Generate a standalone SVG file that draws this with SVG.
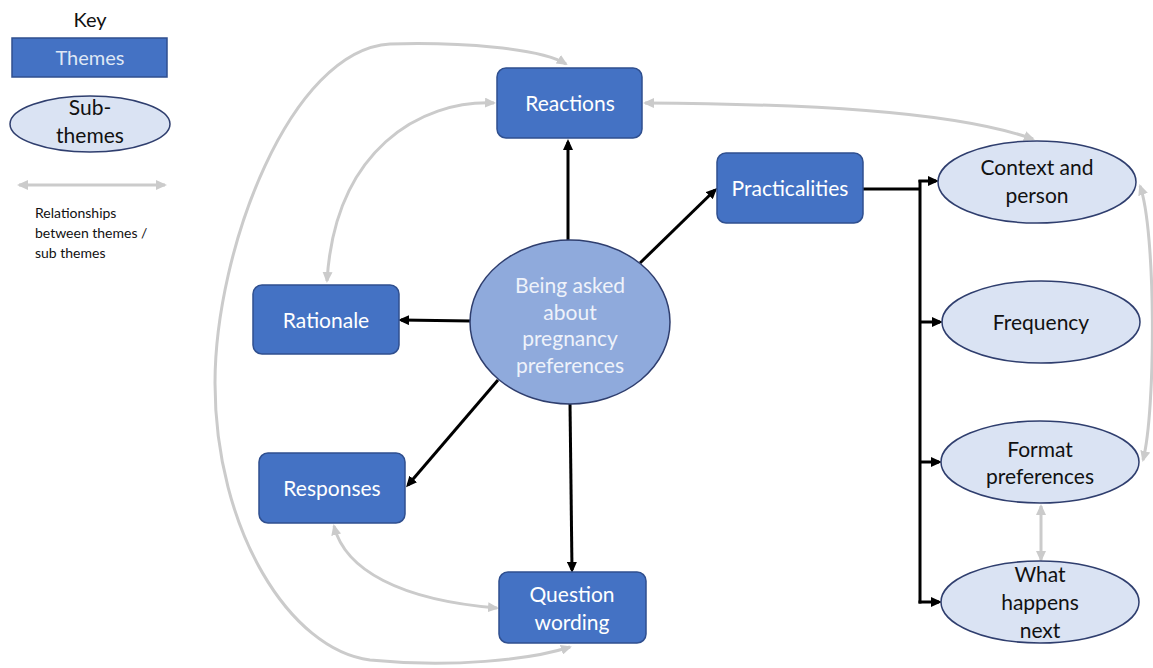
<svg xmlns="http://www.w3.org/2000/svg" width="1153" height="668" viewBox="0 0 1153 668">
<style>
text{font-family:Lato,"Open Sans","Liberation Sans",sans-serif;text-anchor:middle}
.theme{fill:#4472c4;stroke:#2f4f8f;stroke-width:1.5}
.sub{fill:#dae3f3;stroke:#2f3e6e;stroke-width:1.5}
.center{fill:#8faadc;stroke:#2f3e6e;stroke-width:1.5}
.tw{fill:#ffffff;font-size:21px}
.tc{fill:#eef2fa;font-size:21px}
.tb{fill:#111111;font-size:21px}
.blk{fill:none;stroke:#000;stroke-width:3;marker-end:url(#ab)}
.blkn{fill:none;stroke:#000;stroke-width:3}
.gry{fill:none;stroke:#cbcbcb;stroke-width:3;marker-start:url(#ag);marker-end:url(#ag)}
</style>
<defs>
<marker id="ab" markerUnits="userSpaceOnUse" markerWidth="11" markerHeight="10" refX="8" refY="5" orient="auto"><path d="M0,0 L11,5 L0,10 z" fill="#000"/></marker>
<marker id="ag" markerUnits="userSpaceOnUse" markerWidth="11" markerHeight="10" refX="9" refY="5" orient="auto-start-reverse"><path d="M0,0 L11,5 L0,10 z" fill="#cbcbcb"/></marker>
</defs>
<rect width="1153" height="668" fill="#ffffff"/>
<g id="key">
<text x="90" y="27" style="font-size:20px;fill:#111">Key</text>
<rect x="12" y="38" width="155" height="39" class="theme"/>
<text x="90" y="65" style="fill:#dfe7f5;font-size:20px">Themes</text>
<ellipse cx="90" cy="124" rx="80" ry="28" class="sub"/>
<text x="90" y="115" class="tb">Sub-</text>
<text x="90" y="143" class="tb">themes</text>
<path d="M19 185 L165 185" class="gry"/>
<text x="35" y="218" style="font-size:14px;fill:#111;text-anchor:start">Relationships</text>
<text x="35" y="238" style="font-size:14px;fill:#111;text-anchor:start">between themes /</text>
<text x="35" y="258" style="font-size:14px;fill:#111;text-anchor:start">sub themes</text>
</g>
<g id="connectors">
<path d="M568 240 L568 142" class="blk"/>
<path d="M471 321 L401 320" class="blk"/>
<path d="M498 380 L408 485" class="blk"/>
<path d="M570 403 L572 570" class="blk"/>
<path d="M640 263 L715 190" class="blk"/>
<path d="M863 189 L920 189" class="blkn"/>
<path d="M920 180 L920 603.5" class="blkn"/>
<path d="M918.5 181 L936 181" class="blk"/>
<path d="M920 322 L940 322" class="blk"/>
<path d="M920 462 L939 462" class="blk"/>
<path d="M918.5 602 L939 602" class="blk"/>
<path d="M566 64 C540 48 460 42 390 44 C290 50 215 250 215 383 C215 530 290 650 370 660 C450 668 530 660 570 647" class="gry"/>
<path d="M494 103 C420 100 335 150 327 281" class="gry"/>
<path d="M334 526 C345 570 400 600 497 608" class="gry"/>
<path d="M645 103 C800 104 950 110 1033 139" class="gry"/>
<path d="M1140 186 C1156 230 1156 410 1143 460" class="gry"/>
<path d="M1041 506 L1041 560" class="gry"/>
</g>
<g id="center">
<ellipse cx="570" cy="322" rx="100" ry="82" class="center"/>
<text x="570" y="293" class="tc">Being asked</text>
<text x="570" y="320" class="tc">about</text>
<text x="570" y="346" class="tc">pregnancy</text>
<text x="570" y="373" class="tc">preferences</text>
</g>
<g id="reactions">
<rect x="497" y="68" width="145" height="70" rx="9" class="theme"/>
<text x="570" y="111" class="tw">Reactions</text>
</g>
<g id="rationale">
<rect x="253" y="285" width="146" height="69" rx="9" class="theme"/>
<text x="326" y="328" class="tw">Rationale</text>
</g>
<g id="responses">
<rect x="259" y="453" width="146" height="70" rx="9" class="theme"/>
<text x="332" y="496" class="tw">Responses</text>
</g>
<g id="question-wording">
<rect x="499" y="572" width="147" height="71" rx="9" class="theme"/>
<text x="572" y="602" class="tw">Question</text>
<text x="572" y="630" class="tw">wording</text>
</g>
<g id="practicalities">
<rect x="717" y="153" width="146" height="70" rx="9" class="theme"/>
<text x="790" y="196" class="tw">Practicalities</text>
</g>
<g id="context-and-person">
<ellipse cx="1037" cy="182" rx="99" ry="41" class="sub"/>
<text x="1037" y="175" class="tb">Context and</text>
<text x="1037" y="203" class="tb">person</text>
</g>
<g id="frequency">
<ellipse cx="1041" cy="322" rx="99" ry="41" class="sub"/>
<text x="1041" y="330" class="tb">Frequency</text>
</g>
<g id="format-preferences">
<ellipse cx="1040" cy="462" rx="99" ry="41" class="sub"/>
<text x="1040" y="457" class="tb">Format</text>
<text x="1040" y="484" class="tb">preferences</text>
</g>
<g id="what-happens-next">
<ellipse cx="1040" cy="602" rx="99" ry="41" class="sub"/>
<text x="1040" y="582" class="tb">What</text>
<text x="1040" y="610" class="tb">happens</text>
<text x="1040" y="638" class="tb">next</text>
</g>
</svg>
